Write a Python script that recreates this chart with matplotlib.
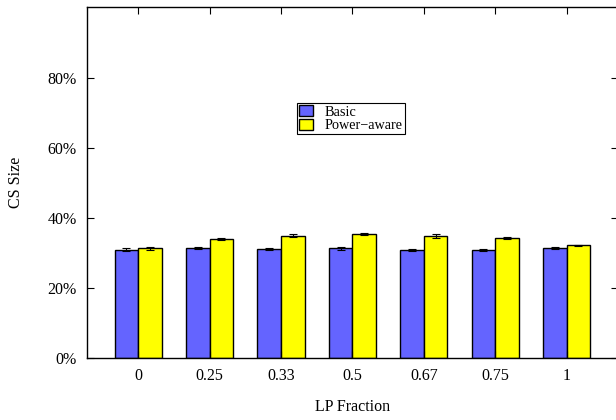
import numpy as np
import matplotlib.pyplot as plt
from matplotlib.ticker import FuncFormatter

fractions = ["0", "0.25", "0.33", "0.5", "0.67", "0.75", "1"]
basic = [31.0, 31.4, 31.1, 31.3, 30.8, 30.9, 31.4]
basic_err = [0.3, 0.3, 0.2, 0.3, 0.3, 0.2, 0.2]
power_aware = [31.3, 33.9, 35.0, 35.5, 34.9, 34.4, 32.2]
power_aware_err = [0.3, 0.3, 0.4, 0.3, 0.6, 0.3, 0.2]

plt.rcParams["font.family"] = ["Liberation Serif", "DejaVu Serif"]
plt.rcParams["font.size"] = 11.5

fig = plt.figure(figsize=(6.16, 4.2), dpi=100)
ax = fig.add_axes([86.7 / 616, 1 - 358 / 420, (618 - 86.7) / 616, (358 - 7) / 420])

x = np.arange(len(fractions))
w = 0.33
err_kw = dict(ecolor="black", elinewidth=0.8, capsize=3, capthick=0.8)
ax.bar(x - w / 2, basic, w, yerr=basic_err, color="#6464ff",
       edgecolor="black", linewidth=1.0, label="Basic", error_kw=err_kw)
ax.bar(x + w / 2, power_aware, w, yerr=power_aware_err, color="#ffff00",
       edgecolor="black", linewidth=1.0, label="Power\u2212aware", error_kw=err_kw)

ax.set_xlim(-0.72, 6.72)
ax.set_ylim(0, 100.3)
ax.set_xticks(x)
ax.set_xticklabels(fractions)
ax.set_yticks([0, 20, 40, 60, 80])
ax.yaxis.set_major_formatter(FuncFormatter(lambda v, _: f"{v:.0f}%"))
ax.tick_params(direction="in", length=5, width=0.8, top=True, right=True,
               labelsize=11.5)
ax.tick_params(axis="y", pad=7)
ax.tick_params(axis="x", pad=7)
for s in ax.spines.values():
    s.set_linewidth(1.0)

ax.set_xlabel("LP Fraction", labelpad=11)
ax.set_ylabel("CS Size", labelpad=17)

leg = ax.legend(loc="upper left", bbox_to_anchor=((297 - 86.7) / 531.3, (358 - 103) / 351),
                frameon=True, fancybox=False, edgecolor="black", framealpha=1,
                handlelength=1.0, handleheight=0.8, handletextpad=0.8,
                borderpad=0.15, labelspacing=0.0, borderaxespad=0, fontsize=10.3)
leg.get_frame().set_linewidth(0.8)

fig.savefig("out.png", dpi=100)
